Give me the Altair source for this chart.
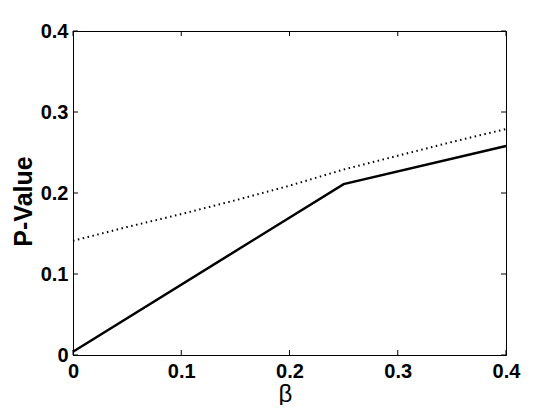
import altair as alt
import pandas as pd

# Data
beta_solid = [0.0, 0.25, 0.4]
p_solid = [0.004, 0.211, 0.258]

beta_dotted = [0.0, 0.05, 0.1, 0.15, 0.2, 0.25, 0.3, 0.35, 0.4]
p_dotted = [0.141, 0.158, 0.174, 0.191, 0.209, 0.229, 0.246, 0.263, 0.279]

tick_values = [0.0, 0.1, 0.2, 0.3, 0.4]

W, H = 433, 324
FONT = "Liberation Sans"

solid_df = pd.DataFrame({"beta": beta_solid, "p": p_solid})
dotted_df = pd.DataFrame({"beta": beta_dotted, "p": p_dotted})
ticks_df = pd.DataFrame({"v": tick_values})

xscale = alt.Scale(domain=[0, 0.4], nice=False, zero=False)
yscale = alt.Scale(domain=[0, 0.4], nice=False, zero=False)

x_axis = alt.Axis(
    values=tick_values, format="~g", grid=False, ticks=False,
    domain=True, domainColor="black", domainWidth=1,
    labelFont=FONT, labelFontWeight="bold", labelFontSize=20, labelColor="black",
    labelPadding=6, labelFlush=False,
    title="β", titleFont=FONT, titleFontWeight="normal", titleFontSize=24,
    titleColor="black", titleBaseline="alphabetic", titleY=46, titleX=212,
)
y_axis = alt.Axis(
    values=tick_values, format="~g", grid=False, ticks=False,
    domain=True, domainColor="black", domainWidth=1,
    labelFont=FONT, labelFontWeight="bold", labelFontSize=20, labelColor="black",
    labelPadding=5, labelFlush=False,
    title="P-Value", titleFont=FONT, titleFontWeight="bold", titleFontSize=25,
    titleColor="black", titleAngle=270, titleBaseline="middle", titleAlign="center",
    titleX=-50, titleY=170,
)

solid = alt.Chart(solid_df).mark_line(color="black", strokeWidth=2.5).encode(
    x=alt.X("beta:Q", scale=xscale, axis=x_axis),
    y=alt.Y("p:Q", scale=yscale, axis=y_axis),
)
dotted = alt.Chart(dotted_df).mark_line(
    color="black", strokeWidth=2, strokeDash=[1.5, 3.5]
).encode(
    x=alt.X("beta:Q", scale=xscale),
    y=alt.Y("p:Q", scale=yscale),
)

TL = 5
tick_bottom = alt.Chart(ticks_df).mark_rule(color="black", strokeWidth=1).encode(
    x=alt.X("v:Q", scale=xscale), y=alt.value(H), y2=alt.value(H - TL)
)
tick_top = alt.Chart(ticks_df).mark_rule(color="black", strokeWidth=1).encode(
    x=alt.X("v:Q", scale=xscale), y=alt.value(0), y2=alt.value(TL)
)
tick_left = alt.Chart(ticks_df).mark_rule(color="black", strokeWidth=1).encode(
    y=alt.Y("v:Q", scale=yscale), x=alt.value(0), x2=alt.value(TL)
)
tick_right = alt.Chart(ticks_df).mark_rule(color="black", strokeWidth=1).encode(
    y=alt.Y("v:Q", scale=yscale), x=alt.value(W), x2=alt.value(W - TL)
)

chart = alt.layer(
    tick_bottom, tick_top, tick_left, tick_right, dotted, solid
).properties(
    width=W, height=H,
    autosize=alt.AutoSizeParams(type="none"),
    padding={"left": 65, "top": 23, "right": 30, "bottom": 50},
    background="white",
).configure_view(
    stroke="black", strokeWidth=1
)

chart.save("out.html", embed_options={"renderer": "svg", "actions": False})
